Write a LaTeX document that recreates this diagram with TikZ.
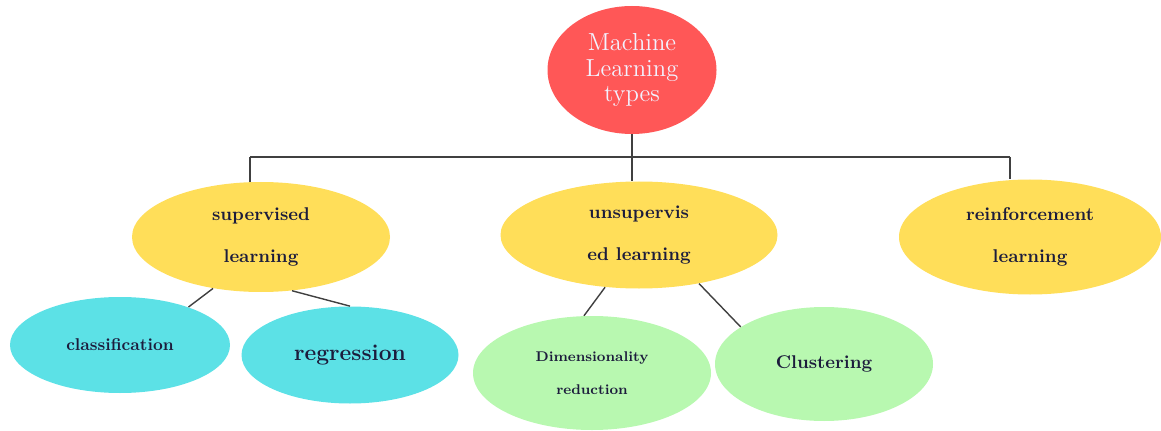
\documentclass[tikz,border=0pt]{standalone}
\usetikzlibrary{shapes.geometric}
\definecolor{mlred}{HTML}{FF5757}
\definecolor{mlyellow}{HTML}{FFDE59}
\definecolor{mlcyan}{HTML}{5CE1E6}
\definecolor{mlgreen}{HTML}{B8F8B0}
\definecolor{mlink}{HTML}{1C1C3C}
\begin{document}
\begin{tikzpicture}[
    bubble/.style={ellipse, inner sep=0pt, align=center, text=mlink},
    rootbubble/.style={bubble, fill=mlred, text=white!95!blue,
      font=\fontsize{14}{14.3}\selectfont},
    typebubble/.style={bubble, fill=mlyellow,
      font=\bfseries\fontsize{10.5}{24}\selectfont},
    supbubble/.style={bubble, fill=mlcyan},
    unsbubble/.style={bubble, fill=mlgreen},
    link/.style={draw=black!75, line width=0.8pt}
  ]
  \useasboundingbox (0,0) rectangle (23.22,8.6);
  \draw
    (12.64,7.2) node[rootbubble, minimum width=3.38cm, minimum height=2.56cm] (ml){Machine\\Learning\\types}
    (5.22,3.86) node[typebubble, minimum width=5.16cm, minimum height=2.2cm] (sup){supervised\\learning}
    (12.78,3.9) node[typebubble, minimum width=5.54cm, minimum height=2.14cm] (uns){unsupervis\\ed learning}
    (20.6,3.86) node[typebubble, minimum width=5.24cm, minimum height=2.3cm] (rein){reinforcement\\learning}
    (2.4,1.7) node[supbubble, minimum width=4.4cm, minimum height=1.92cm,
      font=\bfseries\fontsize{9.7}{11}\selectfont] (cls){classification}
    (7.0,1.5) node[supbubble, minimum width=4.34cm, minimum height=1.94cm,
      font=\bfseries\fontsize{13}{15}\selectfont] (reg){regression}
    (11.84,1.14) node[unsbubble, minimum width=4.76cm, minimum height=2.28cm,
      font=\bfseries\fontsize{8}{19}\selectfont] (dim){Dimensionality\\reduction}
    (16.48,1.32) node[unsbubble, minimum width=4.36cm, minimum height=2.28cm,
      font=\bfseries\fontsize{10.5}{12}\selectfont] (clu){Clustering};
  \coordinate (barl) at (5.0,5.46);
  \coordinate (barr) at (20.2,5.46);
  \begin{scope}[link]
    \draw (barl) -- (barr);
    \draw (ml) -- (ml |- uns.north);
    \draw (barl) -- (barl |- sup.north);
    \draw (barr) -- (barr |- rein.north);
    \draw (sup.227) to (cls.29);
    \draw (sup.300) to (reg.90);
    \draw (uns.237) to (dim.98);
    \draw (uns.321) to (clu.156);
  \end{scope}
\end{tikzpicture}
\end{document}
